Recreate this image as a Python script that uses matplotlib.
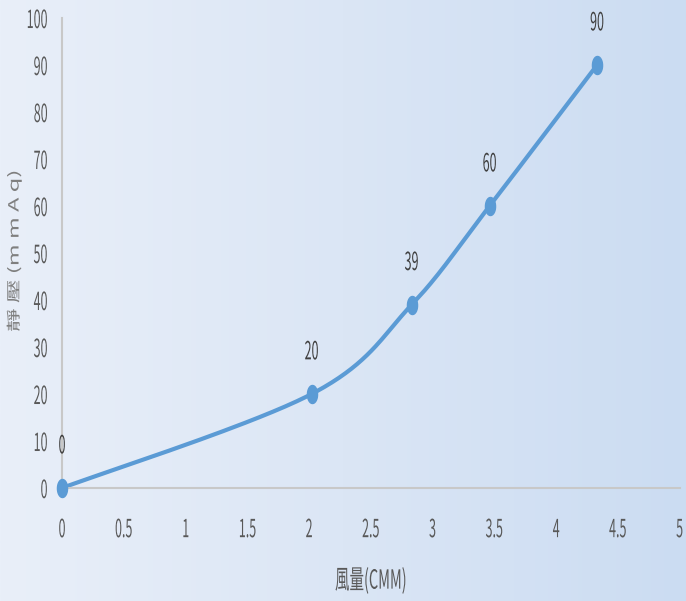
import numpy as np
import matplotlib.pyplot as plt
from matplotlib.path import Path
from matplotlib.transforms import Affine2D
from matplotlib.patheffects import AbstractPathEffect
from matplotlib.colors import LinearSegmentedColormap

# data
flow = [0, 2.02, 2.83, 3.46, 4.33]
pressure = [0, 20, 39, 60, 90]
x_ticks = [0, 0.5, 1, 1.5, 2, 2.5, 3, 3.5, 4, 4.5, 5]
x_tick_labels = ['0', '0.5', '1', '1.5', '2', '2.5', '3', '3.5', '4', '4.5', '5']
y_ticks = [0, 10, 20, 30, 40, 50, 60, 70, 80, 90, 100]

plt.rcParams['font.family'] = ['Noto Sans CJK TC', 'DejaVu Sans']
line_color = '#5b9bd5'
text_color = '#595959'


class Squeeze(AbstractPathEffect):
    # narrow the text horizontally (the source chart is squashed sideways)
    def __init__(self, sx=0.5, anchor='center'):
        super().__init__()
        self.sx = sx
        self.anchor = anchor

    def draw_path(self, renderer, gc, tpath, affine, rgbFace=None):
        ext = tpath.get_extents(affine)
        if self.anchor == 'right':
            cx = ext.x1
        elif self.anchor == 'left':
            cx = ext.x0
        else:
            cx = (ext.x0 + ext.x1) / 2
        tr = affine + Affine2D().translate(-cx, 0).scale(self.sx, 1).translate(cx, 0)
        renderer.draw_path(gc, tpath, tr, rgbFace)


def smooth(xs, ys, n=40):
    # excel-like smoothed line (bezier through the points)
    pts = np.column_stack([xs, ys]).astype(float)
    pts = np.vstack([pts[0], pts, pts[-1]])
    out = []
    for i in range(1, len(pts) - 2):
        p0, p1, p2, p3 = pts[i - 1], pts[i], pts[i + 1], pts[i + 2]
        c1 = p1 + (p2 - p0) / 6
        c2 = p2 - (p3 - p1) / 6
        t = np.linspace(0, 1, n)[:, None]
        seg = ((1 - t) ** 3) * p1 + 3 * ((1 - t) ** 2) * t * c1 + 3 * (1 - t) * t ** 2 * c2 + t ** 3 * p2
        out.append(seg)
    out = np.vstack(out)
    return out[:, 0], out[:, 1]


fig = plt.figure(figsize=(6.86, 6.01), dpi=100)

# gradient background
bg = fig.add_axes([0, 0, 1, 1])
grad = np.linspace(0, 1, 256).reshape(1, -1)
cmap = LinearSegmentedColormap.from_list('bg', ['#e9eff9', '#dbe6f5', '#cbdcf2'])
bg.imshow(grad, aspect='auto', cmap=cmap, extent=[0, 1, 0, 1])
bg.axis('off')

ax = fig.add_axes([0.0904, 0.188, 0.9006, 0.782])
ax.patch.set_alpha(0)

sx, sy = smooth(flow, pressure)
ax.plot(sx, sy, color=line_color, linewidth=3, solid_capstyle='round', clip_on=False)

th = np.linspace(0, 2 * np.pi, 40)
ellipse = Path(np.column_stack([0.56 * np.cos(th), np.sin(th)]))
ax.plot(flow, pressure, linestyle='none', marker=ellipse, markersize=13,
        color=line_color, clip_on=False, zorder=3)

for x, y in zip(flow, pressure):
    ax.annotate(f'{y}', xy=(x, y), xytext=(0, 30), textcoords='offset points',
                ha='center', va='center', fontsize=18, color='#404040',
                path_effects=[Squeeze(0.5)])

ax.set_xlim(0, 5)
ax.set_ylim(0, 100)
ax.set_xticks(x_ticks)
ax.set_xticklabels(x_tick_labels)
ax.set_yticks(y_ticks)
ax.tick_params(length=0, labelsize=18, colors=text_color)
ax.tick_params(axis='x', pad=21)
ax.tick_params(axis='y', pad=10)
for lab in ax.get_xticklabels():
    lab.set_path_effects([Squeeze(0.5)])
for lab in ax.get_yticklabels():
    lab.set_path_effects([Squeeze(0.5, 'right')])

for s in ['top', 'right']:
    ax.spines[s].set_visible(False)
for s in ['left', 'bottom']:
    ax.spines[s].set_color('#c8c8c8')
    ax.spines[s].set_linewidth(1.5)

fig.text(371 / 686, 1 - 581 / 601, '風量(CMM)', fontsize=19, color=text_color,
         ha='center', va='center', path_effects=[Squeeze(0.55)])
fig.text(14 / 686, 1 - 251 / 601, '靜 壓 (m m A q)', fontsize=17, color='#7f7f7f',
         rotation=90, ha='center', va='center', path_effects=[Squeeze(0.6)])

fig.savefig('out.png', dpi=100)
